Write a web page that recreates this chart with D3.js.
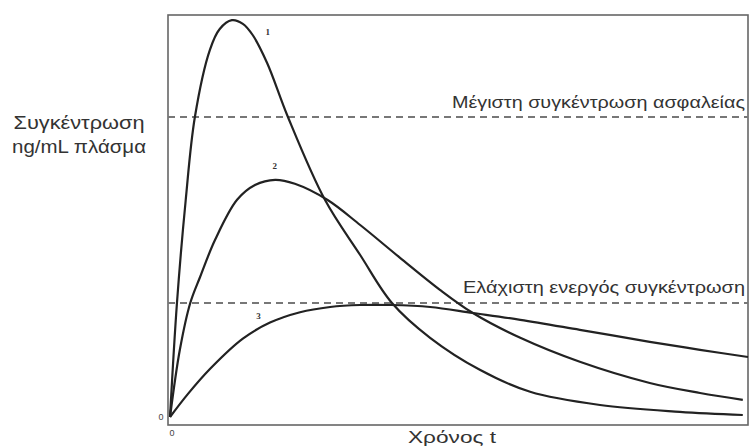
<!DOCTYPE html>
<html><head><meta charset="utf-8">
<script src="https://cdn.jsdelivr.net/npm/d3@7/dist/d3.min.js"></script>
<style>body{margin:0;background:#fff}svg{display:block}</style>
</head><body>
<svg id="c" width="750" height="448"></svg>
<script>
// Time (arbitrary units, 0-100) and concentration (arbitrary units, 0-100)
const curve1T = [0, 1.2, 2.7, 4.3, 6.9, 8.6, 10.7, 12.6, 14.3, 16.8, 20.4, 26.8, 32.9, 38.4, 45.0, 53.6, 62.3, 74.4, 88.2, 99.1];
const curve1C = [0, 28.5, 54, 75, 91.8, 97, 99.2, 98.3, 95.5, 88.5, 75, 54.3, 40.5, 28.5, 19.8, 11.8, 6.3, 3, 1.3, 0.5];
const curve2T = [0, 1.7, 3.5, 5.2, 7.8, 11.6, 14.7, 18.2, 21.6, 27.2, 32.9, 39.8, 46.7, 52.4, 60.6, 70.9, 83.0, 91.7, 99.1];
const curve2C = [0, 16.8, 28.5, 35, 44.3, 54.3, 58, 59.3, 58.3, 54.3, 48, 39.8, 31.8, 26, 19.8, 13.8, 8.5, 6, 4.3];
const curve3T = [0, 3.0, 6.9, 12.6, 17.3, 22.5, 27.7, 32.9, 38.1, 45.0, 52.4, 60.6, 70.9, 83.0, 91.7, 100];
const curve3C = [0, 5.6, 12, 19.6, 23.6, 26.2, 27.5, 28, 28, 27.5, 26, 24.3, 21.8, 18.8, 16.8, 15];
const curveNames = ["1", "2", "3"];
const curveLabelT = [16.9, 18.1, 15.3];
const curveLabelC = [95.5, 62, 24.5];
const maxSafe = 75;
const minEffective = 28.5;
const thresholdLabels = ["Μέγιστη συγκέντρωση ασφαλείας", "Ελάχιστη ενεργός συγκέντρωση"];
const yLabelLines = ["Συγκέντρωση", "ng/mL πλάσμα"];
const xLabel = "Χρόνος t";
const originLabel = "0";

const svg = d3.select("#c");
const x = d3.scaleLinear().domain([-0.35, 100]).range([168, 748]);
const y = d3.scaleLinear().domain([-2, 100.5]).range([425, 15]);

// frame
svg.append("rect")
  .attr("x", x(-0.35)).attr("y", y(100.5))
  .attr("width", x(100) - x(-0.35)).attr("height", y(-2) - y(100.5))
  .attr("fill", "none").attr("stroke", "#666").attr("stroke-width", 1.6);

// threshold dashed lines
[maxSafe, minEffective].forEach(v => {
  svg.append("line")
    .attr("x1", x(-0.35)).attr("x2", x(100))
    .attr("y1", y(v)).attr("y2", y(v))
    .attr("stroke", "#777").attr("stroke-width", 2)
    .attr("stroke-dasharray", "7,5");
});

const line = d3.line().x(d => x(d[0])).y(d => y(d[1])).curve(d3.curveCatmullRom.alpha(0.5));
const series = [
  d3.zip(curve1T, curve1C),
  d3.zip(curve2T, curve2C),
  d3.zip(curve3T, curve3C)
];
series.forEach(s => {
  svg.append("path").attr("d", line(s))
    .attr("fill", "none").attr("stroke", "#222").attr("stroke-width", 2.2);
});

// curve labels
curveNames.forEach((n, i) => {
  svg.append("text").attr("x", x(curveLabelT[i])).attr("y", y(curveLabelC[i]))
    .attr("text-anchor", "middle")
    .attr("font-family", "Liberation Serif, serif").attr("font-weight", "bold")
    .attr("font-size", 9).attr("fill", "#333").text(n);
});

// threshold labels
const tf = "Liberation Sans, Arial, sans-serif";
svg.append("text").attr("x", 745).attr("y", y(maxSafe) - 9)
  .attr("text-anchor", "end").attr("font-family", tf).attr("font-size", 17)
  .attr("fill", "#333").attr("textLength", 293).attr("lengthAdjust", "spacingAndGlyphs")
  .text(thresholdLabels[0]);
svg.append("text").attr("x", 745).attr("y", y(minEffective) - 10)
  .attr("text-anchor", "end").attr("font-family", tf).attr("font-size", 17)
  .attr("fill", "#333").attr("textLength", 282).attr("lengthAdjust", "spacingAndGlyphs")
  .text(thresholdLabels[1]);

// y axis label
yLabelLines.forEach((t, i) => {
  svg.append("text").attr("x", 79).attr("y", 129 + i * 24)
    .attr("text-anchor", "middle").attr("font-family", tf).attr("font-size", 18)
    .attr("fill", "#333").attr("textLength", i === 0 ? 131 : 134)
    .attr("lengthAdjust", "spacingAndGlyphs").text(t);
});

// x axis label
svg.append("text").attr("x", 452).attr("y", 443)
  .attr("text-anchor", "middle").attr("font-family", tf).attr("font-size", 17)
  .attr("fill", "#333").attr("textLength", 88).attr("lengthAdjust", "spacingAndGlyphs")
  .text(xLabel);

// origin labels
svg.append("text").attr("x", x(0) - 9).attr("y", y(0) + 3)
  .attr("text-anchor", "middle").attr("font-family", tf).attr("font-size", 9)
  .attr("fill", "#444").text(originLabel);
svg.append("text").attr("x", x(0) + 2).attr("y", y(-2) + 11)
  .attr("text-anchor", "middle").attr("font-family", tf).attr("font-size", 9)
  .attr("fill", "#444").text(originLabel);
</script>
</body></html>
